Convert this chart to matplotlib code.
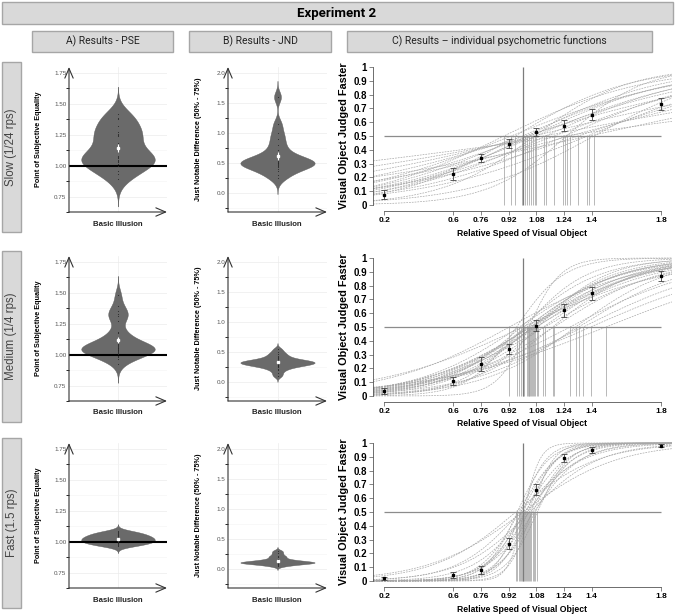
import numpy as np
import matplotlib
matplotlib.use("Agg")
import matplotlib.pyplot as plt
from matplotlib.patches import Rectangle
import seaborn as sns

plt.rcParams['font.family'] = ['Liberation Sans', 'DejaVu Sans']

# ---- data ----
conditions = ['Slow (1/24 rps)', 'Medium (1/4 rps)', 'Fast (1.5 rps)']

speed_levels = [0.2, 0.6, 0.76, 0.92, 1.08, 1.24, 1.4, 1.8]
speed_labels = ['0.2', '0.6', '0.76', '0.92', '1.08', '1.24', '1.4', '1.8']
prop_ticks = [0, 0.1, 0.2, 0.3, 0.4, 0.5, 0.6, 0.7, 0.8, 0.9, 1]
prop_labels = ['0', '0.1', '0.2', '0.3', '0.4', '0.5', '0.6', '0.7', '0.8', '0.9', '1']

# per-participant PSE and JND
pse_slow = [0.893, 0.934, 0.959, 0.999, 1.014, 1.028, 1.038, 1.047, 1.063, 1.070, 1.076,
            1.124, 1.134, 1.184, 1.236, 1.245, 1.255, 1.274, 1.321, 1.374, 1.384, 1.413]
jnd_slow = [0.45, 0.55, 0.36, 0.50, 0.72, 0.43, 0.60, 0.47, 0.90, 0.30, 0.52,
            1.15, 0.48, 0.57, 1.60, 0.50, 0.25, 0.80, 0.65, 0.53, 1.00, 0.40]

pse_medium = [0.924, 0.966, 0.980, 0.991, 1.001, 1.011, 1.024, 1.030, 1.037, 1.040, 1.045,
              1.049, 1.055, 1.059, 1.065, 1.075, 1.082, 1.090, 1.120, 1.128, 1.174, 1.182,
              1.274, 1.307, 1.324, 1.351, 1.394, 1.482]
jnd_medium = [0.40, 0.15, 0.33, 0.25, 0.47, 0.20, 0.30, 0.29, 0.10, 0.33, 0.35,
              0.36, 0.26, 0.28, 0.31, 0.37, 0.33, 0.22, 0.31, 0.38, 0.27, 0.34,
              0.42, 0.30, 0.35, 0.44, 0.50, 0.55]

pse_fast = [0.961, 0.970, 0.980, 0.986, 0.991, 0.997, 1.003, 1.009, 1.014, 1.020,
            1.026, 1.032, 1.038, 1.043, 1.051, 1.059, 1.066, 1.074, 1.086]
jnd_fast = [0.26, 0.10, 0.12, 0.20, 0.08, 0.11, 0.30, 0.05, 0.13, 0.10,
            0.17, 0.09, 0.14, 0.22, 0.07, 0.11, 0.15, 0.12, 0.10]

# group means (+/- error) per speed level
mean_slow = [0.075, 0.225, 0.34, 0.445, 0.53, 0.575, 0.655, 0.73]
err_slow = [0.035, 0.045, 0.03, 0.035, 0.03, 0.04, 0.04, 0.043]
mean_medium = [0.035, 0.11, 0.23, 0.34, 0.51, 0.62, 0.745, 0.87]
err_medium = [0.02, 0.03, 0.05, 0.035, 0.04, 0.045, 0.048, 0.035]
mean_fast = [0.02, 0.045, 0.08, 0.27, 0.66, 0.89, 0.95, 0.98]
err_fast = [0.01, 0.02, 0.03, 0.04, 0.04, 0.03, 0.02, 0.01]

pse_all = [pse_slow, pse_medium, pse_fast]
jnd_all = [jnd_slow, jnd_medium, jnd_fast]
mean_all = [mean_slow, mean_medium, mean_fast]
err_all = [err_slow, err_medium, err_fast]

W, H = 676, 615
fig = plt.figure(figsize=(W / 100, H / 100), dpi=100)


def fx(x):
    return x / W


def fy(y):
    return 1 - y / H


def box(x0, y0, x1, y1):
    fig.add_artist(Rectangle((fx(x0), fy(y1)), fx(x1 - x0), (y1 - y0) / H,
                             transform=fig.transFigure, facecolor='#d9d9d9',
                             edgecolor='#a6a6a6', lw=1))


def add_axes(x0, y0, x1, y1):
    return fig.add_axes([fx(x0), fy(y1), fx(x1 - x0), (y1 - y0) / H])


# headers
box(2, 2, 673, 24)
fig.text(fx(337), fy(13), 'Experiment 2', ha='center', va='center',
         fontsize=9.5, fontweight='bold', family='Roboto')
sub = [(32, 173, 'A) Results - PSE'), (189, 331, 'B) Results - JND'),
       (347, 652, 'C) Results \u2013 individual psychometric functions')]
for x0, x1, t in sub:
    box(x0, 31, x1, 52)
    fig.text(fx((x0 + x1) / 2), fy(41.5), t, ha='center', va='center',
             fontsize=7.5, family='Roboto', color='#222222')

row_boxes = [(62, 232), (251, 422), (438, 608)]
for (y0, y1), lab in zip(row_boxes, conditions):
    box(2, y0, 21, y1)
    fig.text(fx(11.5), fy((y0 + y1) / 2), lab, rotation=90, ha='center', va='center',
             fontsize=8.3, color='#444444')

# vertical pixel extents of each row
ab_rows = [(67, 212), (256, 401), (443, 588)]
c_rows = [(61.5, 210.5), (252.5, 401.5), (437.5, 586.5)]


def nrd0(v):
    v = np.asarray(v)
    sd = v.std(ddof=1)
    iqr = np.subtract(*np.percentile(v, [75, 25]))
    return 0.9 * min(sd, iqr / 1.34) * len(v) ** -0.2


def violin_panel(ax, vals, ylim, ticks, ticklabels, refline=False):
    vals = np.asarray(vals)
    factor = nrd0(vals) / vals.std(ddof=1)
    sns.violinplot(y=vals, ax=ax, color='#6a6a6a', saturation=1, linewidth=0.3,
                   linecolor='#5a5a5a', inner=None, cut=3, bw_method=factor,
                   width=0.9, gridsize=200)
    ax.set_xlim(-0.6, 0.6)
    ax.set_ylim(*ylim)
    ax.set_yticks(ticks)
    ax.set_yticklabels(ticklabels)
    step = ticks[1] - ticks[0]
    ax.set_yticks([t + step / 2 for t in ticks[:-1]] + [ticks[0] - step / 2], minor=True)
    ax.set_xticks([0])
    ax.set_xticklabels([''])
    ax.grid(which='major', color='#ebebeb', lw=0.5)
    ax.grid(which='minor', axis='y', color='#f4f4f4', lw=0.4)
    ax.set_axisbelow(True)
    ax.tick_params(length=0, labelsize=4.5, labelcolor='#555555', pad=2)
    for s in ax.spines.values():
        s.set_visible(False)
    if refline:
        ax.axhline(1.0, color='black', lw=1.5, zorder=3)
    ax.scatter(np.zeros(len(vals)), vals, s=0.6, color='#2a2a2a', zorder=4, lw=0)
    se = vals.std(ddof=1) / np.sqrt(len(vals))
    ax.errorbar([0], [vals.mean()], yerr=[se], fmt='s', ms=2, color='white',
                elinewidth=0.8, capsize=0, zorder=5)
    ax.set_ylabel('')
    ax.set_xlabel('')
    arrow = dict(arrowstyle='->,head_length=0.7,head_width=0.3', lw=0.8,
                 color='#333333', shrinkA=0, shrinkB=0)
    ax.annotate('', xy=(1, 0), xytext=(0, 0), xycoords='axes fraction',
                arrowprops=arrow, annotation_clip=False)
    ax.annotate('', xy=(0, 1), xytext=(0, 0), xycoords='axes fraction',
                arrowprops=arrow, annotation_clip=False)


lev = np.array(speed_levels)
xs = np.linspace(0.136, 1.864, 300)

for r in range(3):
    y0, y1 = ab_rows[r]
    # A: PSE
    axa = add_axes(69, y0, 167, y1)
    violin_panel(axa, pse_all[r], (0.697, 1.795), [0.75, 1.0, 1.25, 1.5, 1.75],
                 ['0.75', '1.00', '1.25', '1.50', '1.75'], refline=True)
    fig.text(fx(38), fy((y0 + y1) / 2), 'Point of Subjective Equality', rotation=90,
             ha='center', va='center', fontsize=5.2, fontweight='bold')
    fig.text(fx(118), fy(y1 + 12), 'Basic Illusion', ha='center', va='center',
             fontsize=5.6, fontweight='bold', color='#222222')
    # B: JND
    axb = add_axes(228, y0, 327, y1)
    violin_panel(axb, jnd_all[r], (-0.317, 2.1), [0.0, 0.5, 1.0, 1.5, 2.0],
                 ['0.0', '0.5', '1.0', '1.5', '2.0'])
    fig.text(fx(198), fy((y0 + y1) / 2), 'Just Notable Difference (50% - 75%)', rotation=90,
             ha='center', va='center', fontsize=5.2, fontweight='bold')
    fig.text(fx(277), fy(y1 + 12), 'Basic Illusion', ha='center', va='center',
             fontsize=5.6, fontweight='bold', color='#222222')

    # C: psychometric functions
    cy0, cy1 = c_rows[r]
    axc = add_axes(373, cy0, 672, cy1)
    axc.set_xlim(0.136, 1.864)
    axc.set_ylim(-0.04, 1.04)
    for p, j in zip(pse_all[r], jnd_all[r]):
        s = j / np.log(3)
        axc.plot(xs, 1 / (1 + np.exp(-(xs - p) / s)), color='#a8a8a8', lw=0.5,
                 dashes=(2.5, 1.5))
    axc.vlines(pse_all[r], 0, 0.5, color='#9c9c9c', lw=0.5)
    axc.hlines(0.5, 0.2, 1.8, color='#8c8c8c', lw=0.9)
    axc.vlines(1.0, 0, 1.0, color='#7c7c7c', lw=0.9)
    axc.errorbar(lev, mean_all[r], yerr=err_all[r], fmt='s', ms=1.8, color='black',
                 ecolor='#444444', elinewidth=0.6, capsize=2.2, capthick=0.6, zorder=5)
    for side in ['top', 'right']:
        axc.spines[side].set_visible(False)
    axc.spines['left'].set_bounds(0, 1)
    axc.spines['bottom'].set_bounds(0.2, 1.8)
    for side in ['left', 'bottom']:
        axc.spines[side].set_color('#555555')
        axc.spines[side].set_linewidth(0.6)
    axc.set_yticks(prop_ticks)
    axc.set_yticklabels(prop_labels, fontsize=7, fontweight='bold')
    axc.set_xticks(speed_levels)
    axc.set_xticklabels(speed_labels, fontsize=6, fontweight='bold')
    axc.tick_params(length=3, width=0.5, color='#555555', pad=1.5)
    fig.text(fx(344), fy((cy0 + cy1) / 2), 'Visual Object Judged Faster', rotation=90,
             ha='center', va='center', fontsize=7.8, fontweight='bold')
    fig.text(fx(522), fy(cy1 + 22.5), 'Relative Speed of Visual Object', ha='center',
             va='center', fontsize=6.2, fontweight='bold')

fig.savefig('out.png', dpi=100)
